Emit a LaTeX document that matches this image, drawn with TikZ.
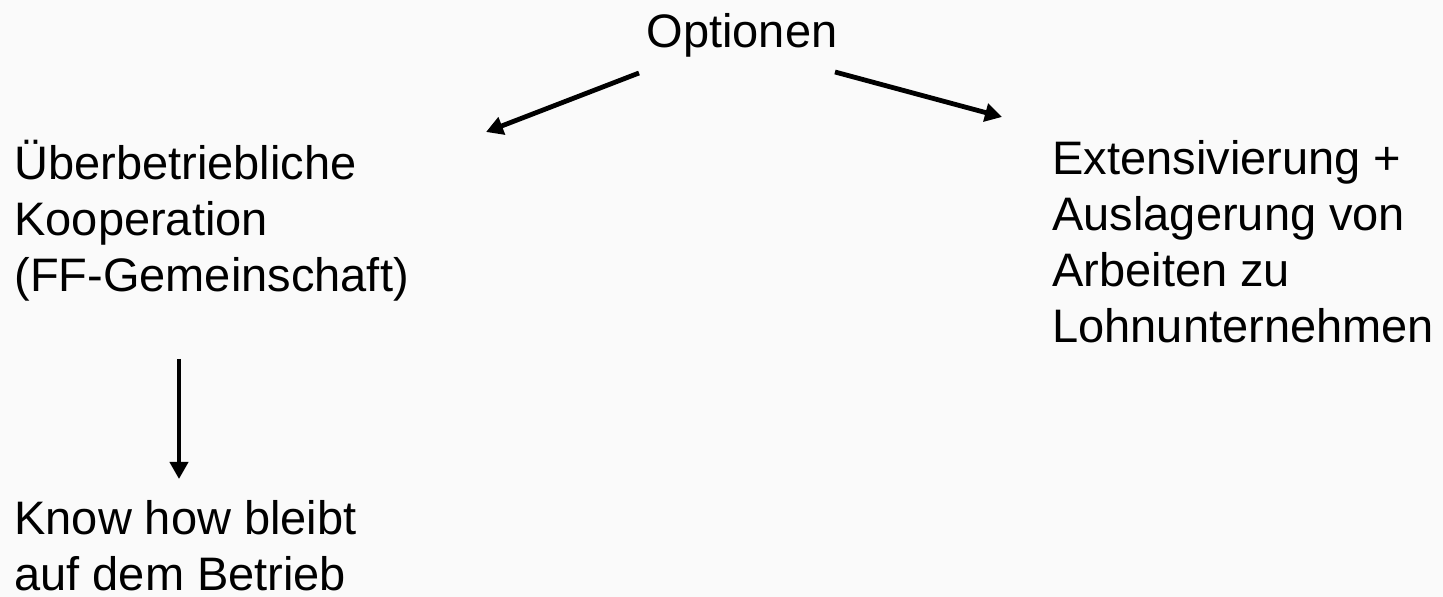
\documentclass[tikz,border=0pt]{standalone}
\usepackage{fontspec}
\setmainfont{Liberation Sans}
\usetikzlibrary{arrows.meta}
\definecolor{bgcol}{HTML}{FAFAFA}
\tikzset{
  txt/.style={anchor=base west,inner sep=0pt,align=left,
    font=\fontsize{23.5}{28}\selectfont},
  pfeil/.style={-{Triangle[length=8.5pt,width=9pt]},line width=2.4pt}
}
\begin{document}
\begin{tikzpicture}[x=0.5pt,y=-0.5pt]
        \fill[bgcol] (0,0) rectangle (1443,597);
        \useasboundingbox (0,0) rectangle (1443,597);
        % texts (base = last line)
        \node[txt,anchor=base] (opt) at (742,48) {Optionen};
        \node[txt] (ueber) at (14,292) {Überbetriebliche\\Kooperation\\(FF-Gemeinschaft)};
        \node[txt] (ext) at (1052,343) {Extensivierung +\\Auslagerung von\\Arbeiten zu\\Lohnunternehmen};
        \node[txt] (know) at (14,590) {Know how bleibt\\auf dem Betrieb};
        % arrow ends
        \coordinate (a1) at (639,73);
        \coordinate (a2) at (486,132);
        \coordinate (b1) at (835,72);
        \coordinate (b2) at (1002,117);
        \coordinate (c1) at (179,359);
        \coordinate (c2) at (179,479);
        \draw[pfeil] (a1) -- (a2);
        \draw[pfeil] (b1) -- (b2);
        \draw[pfeil,line width=2pt] (c1) -- (c2);
    \end{tikzpicture}
\end{document}
